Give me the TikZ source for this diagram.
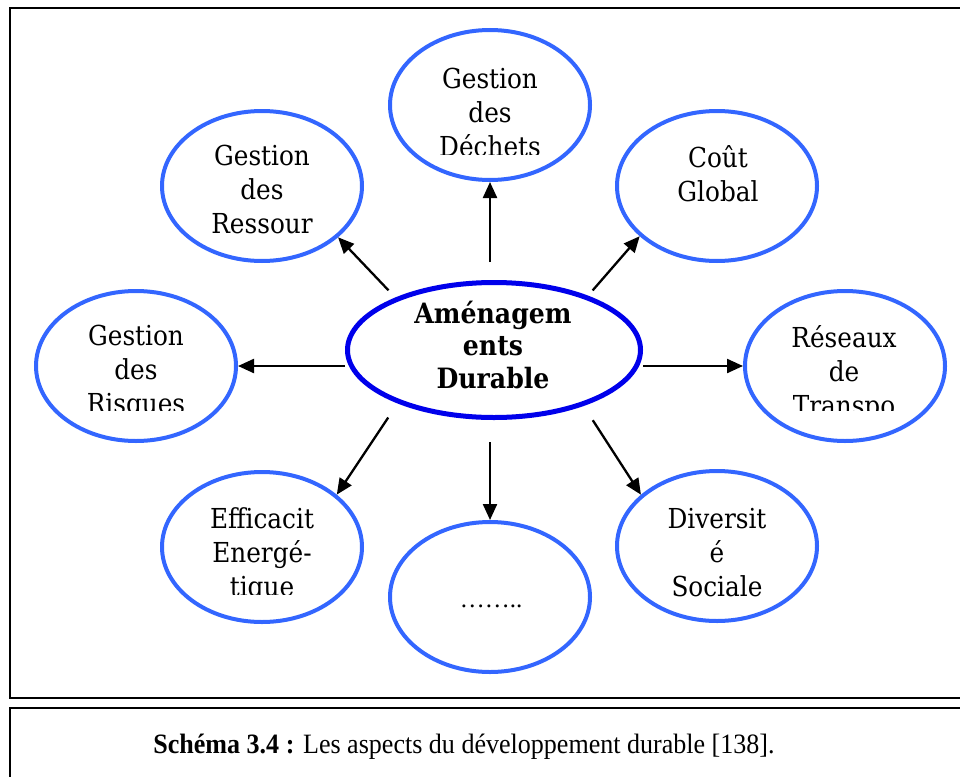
\documentclass[tikz,border=0pt]{standalone}
\usepackage{fontspec}
\setmainfont{DejaVu Serif}
\newfontfamily\aspectfont[FakeStretch=0.9]{DejaVu Serif}
\newfontfamily\capfont[FakeStretch=0.93]{Liberation Serif}
\newfontfamily\dotfont{Liberation Serif}
\usetikzlibrary{shapes.geometric,arrows.meta}
\definecolor{ringblue}{RGB}{51,102,255}
\definecolor{coreblue}{RGB}{0,0,235}
% centred block of lines whose anchor is the first baseline
\newcommand\aspecttext[1]{\begin{tabular}[t]{@{}c@{}}#1\end{tabular}}

\begin{document}
\begin{tikzpicture}[x=1pt,y=-1pt,
  aspect/.style={ellipse,draw=ringblue,line width=4pt,minimum width=200pt,minimum height=150pt,inner sep=0pt},
  core/.style={ellipse,draw=coreblue,line width=5pt,minimum width=293pt,minimum height=135pt,inner sep=0pt},
  lbl/.style={anchor=base,inner sep=0pt,font=\aspectfont\fontsize{27.5}{34}\selectfont},
  corelbl/.style={anchor=base,inner sep=0pt,font=\aspectfont\fontsize{28}{32.5}\selectfont\bfseries},
  link/.style={line width=2.3pt,-{Triangle[length=16pt,width=14pt]}},
  frame/.style={line width=2.5pt}
]
\useasboundingbox (0,0) rectangle (960,776);

% outer frames
\draw[frame] (975,8) -- (10,8) -- (10,698) -- (975,698);
\draw[frame] (975,708) -- (10,708) -- (10,790);

% ellipses
\node[core]   (mid)  at (494,350) {};
\node[aspect] (dech) at (490,105) {};
\node[aspect] (res)  at (262,186) {};
\node[aspect] (glob) at (717,186) {};
\node[aspect] (risk) at (136,366) {};
\node[aspect] (tran) at (845,366) {};
\node[aspect] (eff)  at (262,547) {};
\node[aspect] (dots) at (490,597) {};
\node[aspect] (div)  at (717,546) {};

% labels
\node[corelbl] (mid-t) at (493,323) {\aspecttext{Aménagem\\ents\\Durable}};
\begin{scope}
  \clip (380,0) rectangle (600,154);
  \node[lbl] (dech-t) at (490,88) {\aspecttext{Gestion\\des\\Déchets}};
\end{scope}
\node[lbl] (res-t)  at (262,165) {\aspecttext{Gestion\\des\\Ressour}};
\node[lbl] (glob-t) at (718,167) {\aspecttext{Coût\\Global}};
\begin{scope}
  \clip (30,300) rectangle (245,410);
  \node[lbl] (risk-t) at (136,345) {\aspecttext{Gestion\\des\\Risques}};
\end{scope}
\begin{scope}
  \clip (740,300) rectangle (955,410);
  \node[lbl] (tran-t) at (844,347) {\aspecttext{Réseaux\\de\\Transpo}};
\end{scope}
\begin{scope}
  \clip (155,480) rectangle (370,594);
  \node[lbl] (eff-t) at (262,528) {\aspecttext{Efficacit\\Energé-\\tique}};
\end{scope}
\node[lbl] (div-t)  at (717,528) {\aspecttext{Diversit\\é\\Sociale}};
\node[anchor=base,inner sep=0pt,font=\dotfont\fontsize{25}{30}\selectfont] (dots-t) at (491,607) {……..};

% connectors
\draw[link,shorten <=18pt] (mid.north -| dech.south) -- (dech.south);
\draw[link,shorten <=22pt] (mid.south -| dots.north) -- (dots.north);
\draw[link] (mid.west |- risk.east) -- (risk.east);
\draw[link] (mid.east |- tran.west) -- (tran.west);
\draw[link,shorten <=10pt] (mid.152) -- (res.326);
\draw[link,shorten <=7pt]  (mid.30)  -- (glob.213);
\draw[link,shorten <=17pt] (mid.209) -- (eff.35);
\draw[link,shorten <=17pt] (mid.328) -- (div.146);

% caption
\node[anchor=base,inner sep=0pt,font=\capfont\fontsize{28}{32}\selectfont] (cap) at (464,753)
  {\textbf{Schéma 3.4 :} Les aspects du développement durable [138].};
\end{tikzpicture}
\end{document}
